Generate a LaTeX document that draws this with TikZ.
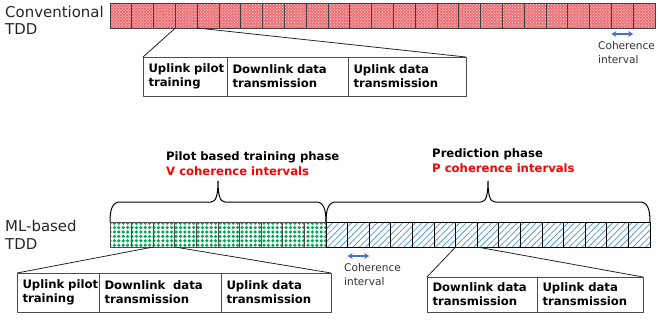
\documentclass[tikz,border=0pt]{standalone}
\usepackage{fontspec}
\setmainfont{DejaVu Sans}
\usetikzlibrary{calc,positioning,patterns,patterns.meta,arrows.meta}

\definecolor{cellred}{RGB}{232,72,80}
\definecolor{dotgreen}{RGB}{0,166,81}
\definecolor{hatchblue}{RGB}{91,155,213}
\definecolor{arrowblue}{RGB}{68,114,196}

\tikzdeclarepattern{
    name=greendots,
    type=uncolored,
    bottom left={(-2.2bp,-2.2bp)},
    top right={(2.2bp,2.2bp)},
    tile size={(4.4bp,4.4bp)},
    code={
        \fill (0bp,0bp) circle [radius=1.75bp];
    }
}

\tikzset{
    lab/.style={
        font=\fontsize{15}{17.6}\selectfont, align=left, text=black!85, inner sep=0pt
    },
    phase/.style={
        font=\bfseries\fontsize{11.7}{14.5}\selectfont, align=left, inner sep=0pt
    },
    coh/.style={
        font=\fontsize{10.6}{14}\selectfont, align=left, text=black!80, inner sep=0pt
    },
    cell/.style={
        minimum width=#1, minimum height=25bp, inner sep=0pt, outer sep=0pt, line width=0.8bp
    },
    redcell/.style={
        cell=21.8bp, draw=black!75, preaction={fill=cellred!80}, pattern=crosshatch dots, pattern color=white
    },
    greencell/.style={
        cell=21.6bp, draw=black!70, pattern=greendots, pattern color=dotgreen
    },
    bluecell/.style={
        cell=21.6bp, draw=black, pattern={Lines[angle=45,distance=4.5bp,line width=0.8bp]}, pattern color=hatchblue
    },
    boxcell/.style n args={2}{
        draw=black!70, line width=1bp, text width=#1, minimum height=#2,
        inner xsep=5.5bp, inner ysep=0pt, outer sep=0pt, align=left,
        font=\bfseries\fontsize{11.7}{14}\selectfont
    },
    zoomline/.style={draw=black!85, line width=0.8bp},
    cohar/.style={
        draw=arrowblue, line width=1.3bp, arrows={Stealth[length=5bp,width=6bp]-Stealth[length=5bp,width=6bp]}
    },
    bracepath/.style={draw=black, line width=1bp}
}

% curly brace over a row of cells, tip in the middle
\newcommand{\phasebrace}[2]{%
    \draw[bracepath] (#1) .. controls +(0,-14) and +(-7,0) .. ($(#1)+(10,-20)$)
        -- ($(#1)!0.5!(#2)+(-7,-20)$) .. controls +(5,0) and +(0,14) .. ($(#1)!0.5!(#2)+(0,-41)$)
        .. controls +(0,14) and +(-5,0) .. ($(#1)!0.5!(#2)+(7,-20)$)
        -- ($(#2)+(-10,-20)$) .. controls +(7,0) and +(0,-14) .. (#2);
}

\begin{document}
\begin{tikzpicture}[x=1bp,y=-1bp,line join=round]

    \useasboundingbox (0,0) rectangle (663,320);

% --- conventional TDD ---
    \node[lab, anchor=west] (convlab) at (5,20.5) {Conventional\\TDD};

    \foreach \i in {1,...,25}
        \node[redcell] (t\i) at ({110+(\i-0.5)*21.8},15.5) {};

% coherence interval (top)
    \draw[cohar] ([yshift=-6bp]t24.south west) -- ([yshift=-6bp]t24.south east);
    \node[coh, anchor=west] (tcoh) at (598,53) {Coherence\\interval};

% zoomed coherence interval (top)
    \node[boxcell={73bp}{39bp}, anchor=north west] (ua) at (143,57) {\mbox{Uplink pilot}\\training};
    \node[boxcell={110bp}{39bp}, right=0pt of ua] (ub) {Downlink data\\transmission};
    \node[boxcell={107bp}{39bp}, right=0pt of ub] (uc) {Uplink data\\transmission};

    \draw[zoomline] (t4.south west) -- (ua.north west);
    \draw[zoomline] (t4.south east) -- (uc.north east);

% --- ML-based TDD ---
    \node[lab, anchor=west] (mllab) at (5,235) {ML-based\\TDD};

    \foreach \i in {1,...,10}
        \node[greencell] (m\i) at ({110+(\i-0.5)*21.6},234.5) {};
    \foreach \i in {11,...,25}
        \node[bluecell] (m\i) at ({110+(\i-0.5)*21.6},234.5) {};

% phase braces and labels
    \phasebrace{m1.north west}{m10.north east}
    \phasebrace{m11.north west}{m25.north east}

    \node[phase, anchor=west] (pilotlab) at (166,163.5)
        {Pilot based training phase\\\textcolor{red}{V coherence intervals}};
    \node[phase, anchor=west] (predlab) at (432,160.5)
        {Prediction phase\\\textcolor{red}{P coherence intervals}};

% coherence interval (bottom)
    \draw[cohar] ([yshift=-9bp]m12.south west) -- ([yshift=-9bp]m12.south east);
    \node[coh, anchor=west] (mcoh) at (344,275) {Coherence\\interval};

% zoomed interval, training phase
    \node[boxcell={71bp}{39bp}, anchor=north west] (la) at (17,273) {\mbox{Uplink pilot}\\training};
    \node[boxcell={111bp}{39bp}, right=0pt of la] (lb) {Downlink~~data\\transmission};
    \node[boxcell={99bp}{39bp}, right=0pt of lb] (lc) {Uplink data\\transmission};

    \draw[zoomline] (m3.south west) -- (la.north west);
    \draw[zoomline] (m3.south east) -- (lc.north east);

% zoomed interval, prediction phase
    \node[boxcell={99bp}{35bp}, anchor=north west] (ra) at (427,277) {Downlink data\\transmission};
    \node[boxcell={95bp}{35bp}, right=0pt of ra] (rb) {Uplink data\\transmission};

    \draw[zoomline] (m17.south west) -- (ra.north west);
    \draw[zoomline] (m17.south east) -- (rb.north east);

\end{tikzpicture}
\end{document}
